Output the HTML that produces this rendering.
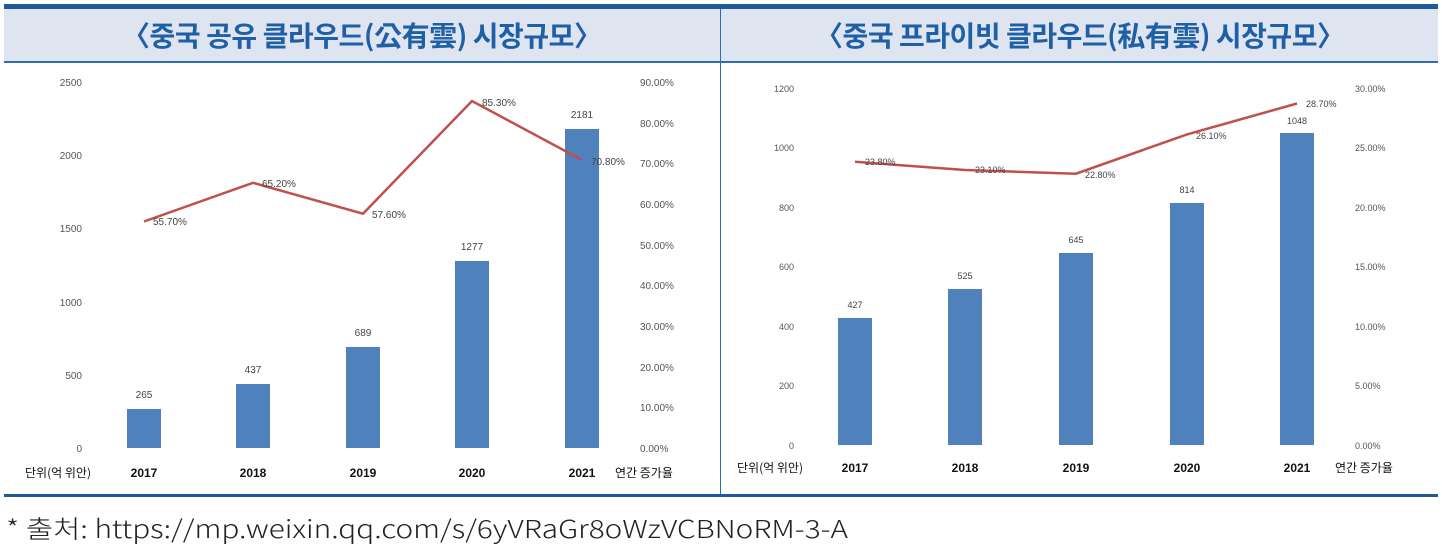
<!DOCTYPE html><html><head><meta charset="utf-8"><style>
body{margin:0;width:1442px;height:547px;background:#fff;overflow:hidden;font-family:"Liberation Sans","Noto Sans CJK KR",sans-serif}
</style></head><body>
<svg width="1442" height="547" xmlns="http://www.w3.org/2000/svg" style="position:absolute;left:0;top:0" font-family="Liberation Sans, Noto Sans CJK KR, sans-serif">
<rect x="4" y="4" width="1434" height="5" fill="#1c5a9c"/>
<rect x="4" y="9" width="1434" height="53" fill="#dfe5f0"/>
<rect x="4" y="61" width="1434" height="2" fill="#2f6db3"/>
<rect x="720" y="9" width="1" height="486" fill="#2f6db3"/>
<rect x="4" y="494" width="1434" height="3" fill="#1c5a9c"/>
<text x="362" y="46" text-anchor="middle" font-size="28" font-weight="bold" fill="#1f5fa6" font-family="Noto Sans CJK KR, sans-serif" textLength="480">〈중국 공유 클라우드(公有雲) 시장규모〉</text>
<text x="1080" y="46" text-anchor="middle" font-size="28" font-weight="bold" fill="#1f5fa6" font-family="Noto Sans CJK KR, sans-serif" textLength="530">〈중국 프라이빗 클라우드(私有雲) 시장규모〉</text>
<g font-size="10" fill="#555">
<text x="82" y="86" text-anchor="end">2500</text><text x="82" y="159" text-anchor="end">2000</text><text x="82" y="232" text-anchor="end">1500</text><text x="82" y="306" text-anchor="end">1000</text><text x="82" y="379" text-anchor="end">500</text><text x="82" y="452" text-anchor="end">0</text>
<text x="640" y="86">90.00%</text><text x="640" y="127">80.00%</text><text x="640" y="167">70.00%</text><text x="640" y="208">60.00%</text><text x="640" y="249">50.00%</text><text x="640" y="289">40.00%</text><text x="640" y="330">30.00%</text><text x="640" y="371">20.00%</text><text x="640" y="411">10.00%</text><text x="640" y="452">0.00%</text>
</g>
<g fill="#4f81bd"><rect x="127" y="409" width="34" height="39"/><rect x="236" y="384" width="34" height="64"/><rect x="346" y="347" width="34" height="101"/><rect x="455" y="261" width="34" height="187"/><rect x="565" y="129" width="34" height="319"/></g>
<g font-size="10" fill="#444" text-anchor="middle"><text x="144" y="398">265</text><text x="253" y="373">437</text><text x="363" y="336">689</text><text x="472" y="250">1277</text><text x="582" y="118">2181</text></g>
<polyline points="144,221.5 253,182.8 363,213.7 472,101 582,160" fill="none" stroke="#c0504d" stroke-width="2.5"/>
<g font-size="10" fill="#444"><text x="153" y="225">55.70%</text><text x="262" y="187">65.20%</text><text x="372" y="218">57.60%</text><text x="482" y="106">85.30%</text><text x="591" y="165">70.80%</text></g>
<g font-size="12" fill="#111"><text x="25" y="477" font-family="Noto Sans CJK KR, sans-serif">단위(억 위안)</text><text x="615" y="477" font-family="Noto Sans CJK KR, sans-serif">연간 증가율</text>
<g text-anchor="middle" font-weight="bold"><text x="144" y="477">2017</text><text x="253" y="477">2018</text><text x="363" y="477">2019</text><text x="472" y="477">2020</text><text x="582" y="477">2021</text></g></g>
<g font-size="9" fill="#555">
<text x="794" y="92" text-anchor="end">1200</text><text x="794" y="151" text-anchor="end">1000</text><text x="794" y="211" text-anchor="end">800</text><text x="794" y="270" text-anchor="end">600</text><text x="794" y="330" text-anchor="end">400</text><text x="794" y="389" text-anchor="end">200</text><text x="794" y="449" text-anchor="end">0</text>
<text x="1355" y="92">30.00%</text><text x="1355" y="151">25.00%</text><text x="1355" y="211">20.00%</text><text x="1355" y="270">15.00%</text><text x="1355" y="330">10.00%</text><text x="1355" y="389">5.00%</text><text x="1355" y="449">0.00%</text>
</g>
<g fill="#4f81bd"><rect x="838" y="318" width="34" height="127"/><rect x="948" y="289" width="34" height="156"/><rect x="1059" y="253" width="34" height="192"/><rect x="1170" y="203" width="34" height="242"/><rect x="1280" y="133" width="34" height="312"/></g>
<g font-size="9" fill="#444" text-anchor="middle"><text x="855" y="308">427</text><text x="965" y="279">525</text><text x="1076" y="243">645</text><text x="1187" y="193">814</text><text x="1297" y="124">1048</text></g>
<polyline points="855,161.8 965,170 1076,173.7 1187,134.4 1297,103.5" fill="none" stroke="#c0504d" stroke-width="2.5"/>
<g font-size="9" fill="#444"><text x="865" y="165">23.80%</text><text x="975" y="173">23.10%</text><text x="1085" y="178">22.80%</text><text x="1196" y="139">26.10%</text><text x="1306" y="107">28.70%</text></g>
<g font-size="12" fill="#111"><text x="737" y="472" font-family="Noto Sans CJK KR, sans-serif">단위(억 위안)</text><text x="1335" y="472" font-family="Noto Sans CJK KR, sans-serif">연간 증가율</text>
<g text-anchor="middle" font-weight="bold"><text x="855" y="472">2017</text><text x="965" y="472">2018</text><text x="1076" y="472">2019</text><text x="1187" y="472">2020</text><text x="1297" y="472">2021</text></g></g>
<text x="6" y="538" font-size="25" fill="#222" font-family="Noto Sans CJK KR, sans-serif" font-weight="300" textLength="842" lengthAdjust="spacingAndGlyphs">* 출처: https://mp.weixin.qq.com/s/6yVRaGr8oWzVCBNoRM-3-A</text>
</svg>
</body></html>
